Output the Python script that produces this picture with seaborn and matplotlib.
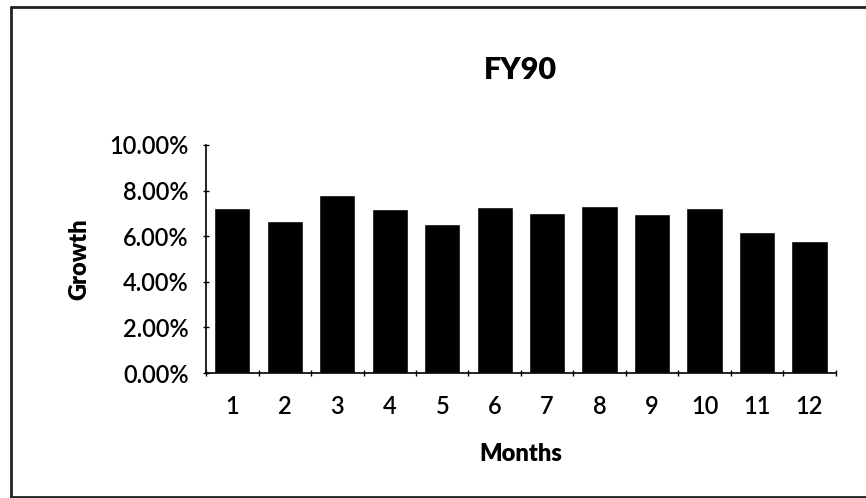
import matplotlib
matplotlib.use("Agg")
import matplotlib.pyplot as plt
import seaborn as sns
import pandas as pd
from matplotlib.ticker import FuncFormatter, MultipleLocator
from matplotlib.lines import Line2D

months = ["1", "2", "3", "4", "5", "6", "7", "8", "9", "10", "11", "12"]
growth = [7.25, 6.65, 7.8, 7.2, 6.55, 7.3, 7.0, 7.33, 6.95, 7.25, 6.2, 5.8]
title = "FY90"
x_label = "Months"
y_label = "Growth"

sns.set_theme(style="white")
plt.rcParams["font.family"] = ["Lato", "DejaVu Sans"]

df = pd.DataFrame({"Months": months, "Growth": growth})

fig = plt.figure(figsize=(8.66, 4.98), dpi=100)
ax = fig.add_axes([0.238, 0.251, 0.727, 0.458])
sns.barplot(data=df, x="Months", y="Growth", order=months, color="black",
            saturation=1, width=0.69, ax=ax)

ax.set_ylim(0, 10)
ax.set_xlim(-0.5, 11.5)
ax.yaxis.set_major_locator(MultipleLocator(2))
ax.yaxis.set_major_formatter(FuncFormatter(lambda v, p: f"{v:.2f}%"))
ax.set_xticks([i + 0.5 for i in range(-1, 12)], minor=True)
ax.tick_params(axis="x", which="major", length=0, pad=16, labelsize=17, colors="black")
ax.tick_params(axis="x", which="minor", length=4, width=1, direction="inout", bottom=True, color="black")
ax.tick_params(axis="y", which="major", length=5, width=1, direction="inout", left=True,
               pad=10, labelsize=17, colors="black")
for lbl in ax.get_xticklabels() + ax.get_yticklabels():
    lbl.set_fontweight("semibold")

for s in ["top", "right"]:
    ax.spines[s].set_visible(False)
for s in ["left", "bottom"]:
    ax.spines[s].set_color("black")
    ax.spines[s].set_linewidth(1.2)

ax.set_xlabel(x_label, fontsize=17, fontweight="heavy", labelpad=18, color="black")
ax.set_ylabel(y_label, fontsize=17, fontweight="heavy", labelpad=14, color="black")
fig.text(0.601, 0.86, title, ha="center", va="center", fontsize=22, fontweight="heavy", color="black")

# border around the chart area
fig.add_artist(Line2D([0.013, 0.013], [0.003, 0.986], transform=fig.transFigure, color="#222222", lw=2))
fig.add_artist(Line2D([0.013, 1.0], [0.986, 0.986], transform=fig.transFigure, color="#222222", lw=2))
fig.add_artist(Line2D([0.013, 1.0], [0.003, 0.003], transform=fig.transFigure, color="#222222", lw=2))

fig.savefig("out.png", dpi=100)
